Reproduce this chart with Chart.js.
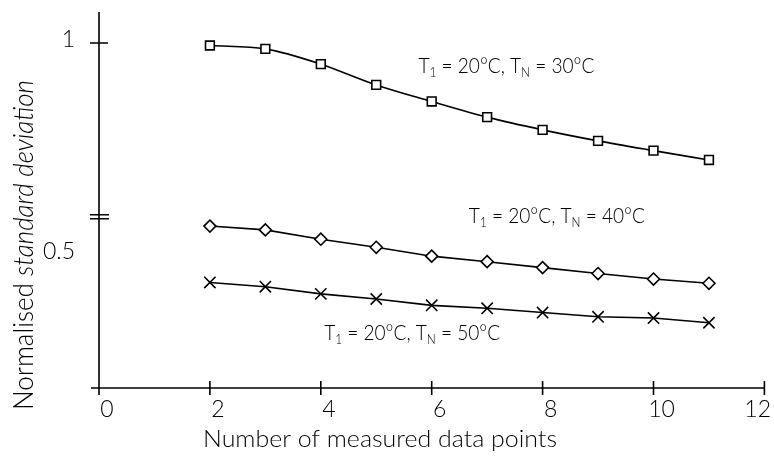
<!DOCTYPE html>
<html>
<head>
<meta charset="utf-8">
<script src="https://cdn.jsdelivr.net/npm/chart.js@4.4.1/dist/chart.umd.min.js"></script>
<style>
  body { margin: 0; background: #fff; }
  #wrap { width: 774px; height: 463px; }
</style>
</head>
<body>
<div id="wrap"><canvas id="sdChart" width="774" height="463"></canvas></div>
<script>
// values
var nPoints = [2, 3, 4, 5, 6, 7, 8, 9, 10, 11];
var sdTN30 = [0.994, 0.986, 0.950, 0.901, 0.862, 0.825, 0.795, 0.769, 0.746, 0.724];
var sdTN40 = [0.568, 0.559, 0.537, 0.518, 0.497, 0.484, 0.470, 0.456, 0.443, 0.433];
var sdTN50 = [0.435, 0.425, 0.408, 0.396, 0.381, 0.374, 0.364, 0.354, 0.351, 0.340];

var xTicks = [0, 2, 4, 6, 8, 10, 12];
var yTicks = [1, 0.5];
var yTickText = ["1", "0.5"];
var yBreak = 0.59;

// curve labels: T_N value and where the label starts (data units)
var labelTN = ["30", "40", "50"];
var labelX = [5.76, 6.67, 4.06];
var labelY = [0.929, 0.576, 0.300];

var FONT = '"Lato", "Open Sans", sans-serif';

function toXY(ys)
{
    return nPoints.map(function (n, i) { return {x: n, y: ys[i]}; });
}

// draw a list of text pieces squeezed/stretched to a given width
function drawPieces(ctx, pieces, width)
{
    var total = 0;
    pieces.forEach(function (p) {
        ctx.font = p.font;
        p.w = ctx.measureText(p.text).width;
        total += p.w;
    });
    var k = width ? width / total : 1;
    ctx.save();
    ctx.scale(k, 1);
    var cx = 0;
    pieces.forEach(function (p) {
        ctx.font = p.font;
        ctx.fillText(p.text, cx, p.dy || 0);
        cx += p.w;
    });
    ctx.restore();
}

var decor = {
    id: "decor",
    beforeDatasetsDraw: function (chart) {
        var ctx = chart.ctx;
        var xs = chart.scales.x, ys = chart.scales.y;
        var x0 = xs.getPixelForValue(0);
        var xAxisY = chart.chartArea.bottom;
        ctx.save();
        ctx.strokeStyle = "#000";
        ctx.lineWidth = 1.6;
        ctx.beginPath();
        // axes, running slightly past the corner
        ctx.moveTo(x0, chart.chartArea.top);
        ctx.lineTo(x0, xAxisY + 7);
        ctx.moveTo(x0 - 8, xAxisY);
        ctx.lineTo(xs.getPixelForValue(12), xAxisY);
        xTicks.forEach(function (v) {
            var px = xs.getPixelForValue(v);
            ctx.moveTo(px, xAxisY - 7);
            ctx.lineTo(px, xAxisY + 7);
        });
        var p1 = ys.getPixelForValue(1);
        ctx.moveTo(x0 - 9, p1);
        ctx.lineTo(x0 + 9, p1);
        var pb = ys.getPixelForValue(yBreak);
        ctx.moveTo(x0 - 9, pb - 2);
        ctx.lineTo(x0 + 10, pb - 2);
        ctx.moveTo(x0 - 9, pb + 2);
        ctx.lineTo(x0 + 10, pb + 2);
        ctx.stroke();
        ctx.restore();
    },
    afterDraw: function (chart) {
        var ctx = chart.ctx;
        var xs = chart.scales.x, ys = chart.scales.y;
        var x0 = xs.getPixelForValue(0);
        ctx.save();
        ctx.fillStyle = "#000";

        // x tick labels
        ctx.font = "300 23px " + FONT;
        ctx.textAlign = "center";
        ctx.textBaseline = "middle";
        xTicks.forEach(function (v) {
            var t = String(v);
            var w = ctx.measureText(t).width;
            var px = Math.min(xs.getPixelForValue(v) + 8, chart.width - 3 - w / 2);
            ctx.fillText(t, px, chart.chartArea.bottom + 22);
        });

        // y tick labels
        ctx.textAlign = "right";
        yTicks.forEach(function (v, i) {
            ctx.fillText(yTickText[i], x0 - 24, ys.getPixelForValue(v) - 3);
        });

        ctx.textAlign = "left";
        ctx.textBaseline = "alphabetic";

        // x title
        ctx.save();
        ctx.translate(203, 447);
        drawPieces(ctx, [{text: "Number of measured data points", font: "300 23px " + FONT}], 354);
        ctx.restore();

        // y title, second part in italics
        ctx.save();
        ctx.translate(33, 410);
        ctx.rotate(-Math.PI / 2);
        drawPieces(ctx, [
            {text: "Normalised ", font: "300 27px " + FONT},
            {text: "standard deviation", font: "italic 300 27px " + FONT}
        ], 330);
        ctx.restore();

        // curve labels
        labelTN.forEach(function (tn, i) {
            ctx.save();
            ctx.translate(xs.getPixelForValue(labelX[i]), ys.getPixelForValue(labelY[i]));
            drawPieces(ctx, [
                {text: "T", font: "300 21px " + FONT},
                {text: "1", font: "300 13px " + FONT, dy: 4},
                {text: " = 20\u00B0C, T", font: "300 21px " + FONT},
                {text: "N", font: "300 13px " + FONT, dy: 4},
                {text: " = " + tn + "\u00B0C", font: "300 21px " + FONT}
            ], 176);
            ctx.restore();
        });
        ctx.restore();
    }
};

var common = {
    borderColor: "#000",
    borderWidth: 1.6,
    pointBorderColor: "#000",
    pointBackgroundColor: "#fff",
    pointBorderWidth: 1.6,
    fill: false
};

var sdChart = new Chart(document.getElementById("sdChart"), {
    type: "line",
    data: {
        datasets: [
            Object.assign({label: "TN = 30", data: toXY(sdTN30), pointStyle: "rect", pointRadius: 6.2, cubicInterpolationMode: "monotone"}, common),
            Object.assign({label: "TN = 40", data: toXY(sdTN40), pointStyle: "rectRot", pointRadius: 6, tension: 0}, common),
            Object.assign({label: "TN = 50", data: toXY(sdTN50), pointStyle: "crossRot", pointRadius: 8, tension: 0}, common)
        ]
    },
    options: {
        responsive: false,
        animation: false,
        layout: {
            padding: {left: 99, right: 5, top: 12, bottom: 75}
        },
        scales: {
            x: {type: "linear", min: 0, max: 12, display: false},
            y: {type: "linear", min: 0.186, max: 1.073, display: false}
        },
        plugins: {
            legend: {display: false},
            tooltip: {enabled: false}
        }
    },
    plugins: [decor]
});
</script>
</body>
</html>
